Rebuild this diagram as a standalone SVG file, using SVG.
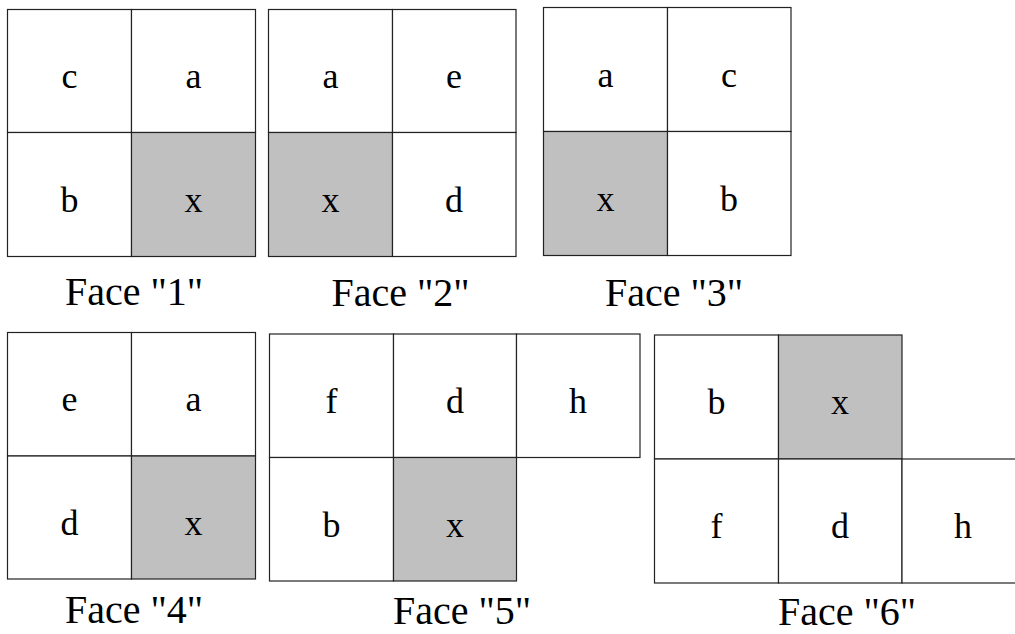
<svg xmlns="http://www.w3.org/2000/svg" width="1015" height="634" viewBox="0 0 1015 634">
  <style>
    .cell { fill: #ffffff; stroke: #222222; stroke-width: 1.2; }
    .cell.hit { fill: #c0c0c0; }
    .lbl { font-family: "Liberation Serif", "Times New Roman", "DejaVu Serif", serif; font-size: 36px; fill: #000000; text-anchor: middle; }
    .cap { font-family: "Liberation Serif", "Times New Roman", "DejaVu Serif", serif; font-size: 40px; fill: #000000; }
  </style>
  <rect width="1015" height="634" fill="#ffffff"/>

  <!-- Face 1 -->
  <g id="face1">
    <rect class="cell" x="7.5" y="9.5" width="124" height="123"/>
    <rect class="cell" x="131.5" y="9.5" width="124" height="123"/>
    <rect class="cell" x="7.5" y="132.5" width="124" height="124"/>
    <rect class="cell hit" x="131.5" y="132.5" width="124" height="124"/>
    <text class="lbl" x="69.5" y="88">c</text>
    <text class="lbl" x="193.5" y="88">a</text>
    <text class="lbl" x="69.5" y="211.5">b</text>
    <text class="lbl" x="193.5" y="211.5">x</text>
    <text class="cap" x="65" y="305">Face "1"</text>
  </g>

  <!-- Face 2 -->
  <g id="face2">
    <rect class="cell" x="268.5" y="9.5" width="124" height="123"/>
    <rect class="cell" x="392.5" y="9.5" width="123.5" height="123"/>
    <rect class="cell hit" x="268.5" y="132.5" width="124" height="124"/>
    <rect class="cell" x="392.5" y="132.5" width="123.5" height="124"/>
    <text class="lbl" x="330.5" y="88">a</text>
    <text class="lbl" x="454" y="88">e</text>
    <text class="lbl" x="330.5" y="211.5">x</text>
    <text class="lbl" x="454" y="211.5">d</text>
    <text class="cap" x="331.5" y="305.5">Face "2"</text>
  </g>

  <!-- Face 3 -->
  <g id="face3">
    <rect class="cell" x="543.5" y="7.5" width="124" height="124"/>
    <rect class="cell" x="667.5" y="7.5" width="123.5" height="124"/>
    <rect class="cell hit" x="543.5" y="131.5" width="124" height="124"/>
    <rect class="cell" x="667.5" y="131.5" width="123.5" height="124"/>
    <text class="lbl" x="605.5" y="86.5">a</text>
    <text class="lbl" x="729" y="86.5">c</text>
    <text class="lbl" x="605.5" y="210.5">x</text>
    <text class="lbl" x="729" y="210.5">b</text>
    <text class="cap" x="605" y="306">Face "3"</text>
  </g>

  <!-- Face 4 -->
  <g id="face4">
    <rect class="cell" x="7.5" y="332.5" width="124" height="123.5"/>
    <rect class="cell" x="131.5" y="332.5" width="124" height="123.5"/>
    <rect class="cell" x="7.5" y="456" width="124" height="123"/>
    <rect class="cell hit" x="131.5" y="456" width="124" height="123"/>
    <text class="lbl" x="69.5" y="411">e</text>
    <text class="lbl" x="193.5" y="411">a</text>
    <text class="lbl" x="69.5" y="534.5">d</text>
    <text class="lbl" x="193.5" y="534.5">x</text>
    <text class="cap" x="65" y="623">Face "4"</text>
  </g>

  <!-- Face 5 -->
  <g id="face5">
    <rect class="cell" x="269.5" y="334" width="124" height="123.5"/>
    <rect class="cell" x="393.5" y="334" width="123" height="123.5"/>
    <rect class="cell" x="516.5" y="334" width="123.5" height="123.5"/>
    <rect class="cell" x="269.5" y="457.5" width="124" height="123.5"/>
    <rect class="cell hit" x="393.5" y="457.5" width="123" height="123.5"/>
    <text class="lbl" x="331.5" y="413">f</text>
    <text class="lbl" x="455" y="413">d</text>
    <text class="lbl" x="578" y="413">h</text>
    <text class="lbl" x="331.5" y="536.5">b</text>
    <text class="lbl" x="455" y="536.5">x</text>
    <text class="cap" x="393" y="624">Face "5"</text>
  </g>

  <!-- Face 6 (right column runs past the page edge) -->
  <g id="face6">
    <rect class="cell" x="654.5" y="335" width="124" height="124"/>
    <rect class="cell hit" x="778.5" y="335" width="123.5" height="124"/>
    <rect class="cell" x="654.5" y="459" width="124" height="124"/>
    <rect class="cell" x="778.5" y="459" width="123.5" height="124"/>
    <rect class="cell" x="902" y="459" width="124" height="124"/>
    <text class="lbl" x="716.5" y="414">b</text>
    <text class="lbl" x="840" y="414">x</text>
    <text class="lbl" x="716.5" y="538">f</text>
    <text class="lbl" x="840" y="538">d</text>
    <text class="lbl" x="963" y="538">h</text>
    <text class="cap" x="778" y="625">Face "6"</text>
  </g>

  <g id="connectors"/>
</svg>
